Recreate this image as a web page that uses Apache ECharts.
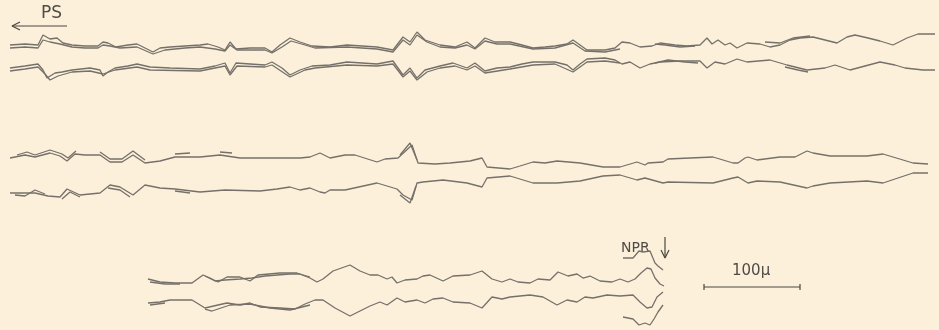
<!DOCTYPE html>
<html><head><meta charset="utf-8">
<script src="https://cdn.jsdelivr.net/npm/echarts@6/dist/echarts.min.js"></script>
<style>html,body{margin:0;padding:0;background:#fcf0da;}#c{width:939px;height:330px;}</style>
</head><body><div id="c"></div>
<script>
// Tracing coordinates (x: horizontal position, y: vertical position, px-scale units)
var row1TopA = [[10,45],[25,44],[38,45],[43,35],[50,39],[57,38],[63,43],[72,45],[85,46],[98,46],[103,42],[108,43],[116,47],[128,45],[137,44],[145,48],[153,52],[160,48],[170,47],[185,46],[200,45],[208,44],[218,47],[225,50],[230,42],[236,49],[250,48],[265,48],[272,52],[280,45],[290,38],[300,42],[312,46],[330,47],[347,45],[362,46],[377,47],[393,50],[403,37],[410,42],[417,32],[425,40],[440,45],[455,47],[467,42],[475,48],[485,38],[495,42],[510,42],[522,45],[533,48],[545,47],[555,46],[567,44],[573,40],[580,45],[587,50],[605,50],[615,48],[622,42],[630,43],[640,47],[652,46],[660,43],[675,45],[687,46],[700,45],[707,38],[712,44],[718,40],[725,45],[730,43],[737,48],[747,43],[760,44],[770,47],[780,45],[790,40],[800,38],[813,37],[825,40],[837,43],[847,37],[855,35],[868,38],[880,41],[893,45],[907,38],[918,34],[935,34]];
var row1TopB = [[10,48],[25,47],[38,48],[43,40],[50,42],[60,44],[72,47],[85,48],[98,48],[103,45],[110,46],[120,48],[137,47],[153,54],[165,50],[185,48],[200,47],[215,49],[225,51],[230,45],[237,50],[265,50],[272,53],[282,47],[291,41],[305,45],[315,48],[347,47],[377,49],[393,52],[403,40],[410,45],[417,35],[427,42],[440,47],[455,48],[467,45],[475,49],[485,41],[497,44],[510,44],[533,49],[555,48],[573,43],[585,51],[605,52],[620,49]];
var row1TopC = [[655,44],[665,45],[680,47],[695,46]];
var row1TopD = [[765,42],[780,43],[793,38],[810,36]];
var row1BotA = [[10,68],[25,66],[38,64],[43,70],[47,78],[55,73],[62,72],[72,70],[90,68],[100,70],[103,76],[108,72],[115,68],[128,66],[137,64],[150,67],[170,68],[200,69],[215,66],[225,63],[230,73],[236,63],[250,64],[265,65],[272,62],[282,68],[290,75],[300,70],[312,66],[330,65],[347,62],[362,63],[377,64],[393,61],[403,75],[410,68],[417,78],[425,70],[440,66],[453,63],[467,68],[475,63],[485,71],[497,68],[510,67],[522,64],[533,62],[555,62],[567,65],[573,70],[580,64],[587,59],[605,58],[615,60],[622,64],[630,62],[640,68],[650,64],[660,62],[680,61],[700,61],[707,68],[715,62],[725,64],[737,59],[747,62],[770,60],[787,65],[807,70],[825,68],[835,65],[850,70],[865,66],[880,62],[895,65],[905,68],[923,70],[935,70]];
var row1BotB = [[10,71],[25,69],[38,67],[45,74],[50,80],[58,76],[72,72],[90,71],[103,74],[115,70],[137,67],[150,70],[200,71],[225,66],[230,75],[237,66],[265,67],[272,65],[290,77],[305,70],[315,68],[347,65],[377,66],[393,64],[403,77],[410,71],[417,80],[427,72],[440,68],[455,66],[467,70],[475,66],[485,73],[510,69],[533,65],[555,64],[573,72],[587,62],[605,61],[620,63]];
var row1BotC = [[655,63],[668,60],[685,62],[698,63]];
var row1BotD = [[785,67],[798,70],[808,72]];

var row2TopA = [[10,158],[25,155],[35,157],[50,153],[60,156],[67,161],[75,154],[85,155],[100,155],[110,162],[122,162],[133,155],[145,163],[160,161],[175,157],[200,157],[220,155],[240,158],[260,158],[280,158],[300,158],[310,157],[320,153],[330,158],[345,155],[355,155],[377,162],[385,159],[398,158],[412,145],[418,163],[435,164],[450,163],[470,161],[482,158],[487,167],[510,169],[520,166],[533,162],[545,163],[557,161],[580,163],[603,167],[620,167],[637,162],[645,165],[648,163],[663,162],[668,159],[690,158],[713,157],[733,163],[738,163],[745,158],[748,157],[757,160],[780,157],[795,157],[807,151],[813,153],[830,156],[867,156],[883,154],[913,163],[928,164]];
var row2TopB1 = [[17,155],[27,152],[35,155],[50,150],[62,154],[68,158],[76,151]];
var row2TopB2 = [[100,152],[110,159],[122,159],[133,151],[145,160]];
var row2TopB3 = [[175,154],[190,153]];
var row2TopB4 = [[220,152],[232,153]];
var row2TopB5 = [[400,155],[410,143],[417,160]];
var row2BotA = [[10,193],[20,193],[35,193],[48,196],[60,197],[67,189],[80,195],[100,193],[110,185],[120,187],[133,195],[145,185],[160,188],[175,189],[200,192],[225,190],[260,191],[277,189],[290,187],[300,190],[310,188],[320,192],[325,193],[330,190],[345,190],[377,183],[397,189],[403,195],[412,200],[417,183],[423,182],[443,180],[467,183],[482,187],[487,178],[510,176],[533,183],[557,183],[580,181],[603,176],[620,175],[637,180],[645,178],[663,183],[668,182],[713,183],[733,178],[738,177],[748,183],[757,181],[780,182],[807,188],[813,186],[830,183],[867,181],[883,183],[913,173],[928,173]];
var row2BotB1 = [[15,195],[25,196],[35,190],[45,194]];
var row2BotB2 = [[62,199],[70,192],[80,197]];
var row2BotB3 = [[108,188],[120,190],[130,197]];
var row2BotB4 = [[175,191],[190,193]];
var row2BotB5 = [[400,195],[410,203],[416,186]];

var row3TopA = [[148,279],[160,282],[175,283],[192,283],[203,275],[210,278],[218,282],[227,277],[240,277],[250,281],[258,275],[280,273],[297,273],[310,278],[317,282],[323,279],[333,271],[350,265],[360,271],[370,275],[378,275],[387,279],[392,277],[397,283],[405,280],[417,279],[423,276],[430,275],[443,281],[453,276],[470,275],[482,271],[492,279],[502,282],[510,279],[518,282],[530,283],[538,279],[550,280],[558,272],[568,276],[577,274],[583,278],[590,276],[600,281],[612,282],[620,279],[628,282],[635,279],[641,273],[647,268],[651,269],[655,278],[660,284],[664,286]];
var row3TopB1 = [[150,282],[165,284],[180,284]];
var row3TopB2 = [[205,276],[215,281],[225,280],[240,279],[252,278],[265,276],[290,274],[300,274],[310,277]];
var row3BotA = [[148,303],[160,302],[170,300],[192,300],[205,308],[218,305],[227,303],[240,305],[250,303],[260,307],[280,308],[295,309],[305,304],[315,300],[323,300],[335,308],[350,316],[360,311],[370,306],[380,302],[387,305],[397,298],[405,302],[417,300],[425,303],[433,299],[443,298],[453,302],[470,303],[482,308],[492,297],[502,299],[510,297],[530,295],[543,297],[557,305],[567,300],[577,302],[585,297],[593,298],[607,295],[620,296],[633,295],[640,302],[647,308],[652,307],[657,297],[663,292]];
var row3BotB1 = [[150,305],[165,303]];
var row3BotB2 = [[205,309],[212,311],[230,305],[250,304],[270,308],[290,310],[310,305]];
var nprUpper = [[623,258],[633,258],[639,251],[643,252],[650,251],[655,263],[658,266],[663,270]];
var nprLower = [[623,317],[633,319],[639,325],[645,323],[650,325],[654,319],[658,312],[663,305]];

// annotations
var psArrowShaft = [[67,26],[12,26]];
var psArrowHead = [[20,22],[12,26],[20,30]];
var nprArrowShaft = [[665,237],[665,258]];
var nprArrowHead = [[661,250],[665,258],[669,250]];
var scaleBar = [[704,287],[800,287]];
var scaleTickL = [[704,284],[704,290]];
var scaleTickR = [[800,284],[800,290]];

var traceColor = '#75706a';
var traces = [row1TopA,row1TopB,row1TopC,row1TopD,row1BotA,row1BotB,row1BotC,row1BotD,
  row2TopA,row2TopB1,row2TopB2,row2TopB3,row2TopB4,row2TopB5,row2BotA,row2BotB1,row2BotB2,row2BotB3,row2BotB4,row2BotB5,
  row3TopA,row3TopB1,row3TopB2,row3BotA,row3BotB1,row3BotB2,nprUpper,nprLower];
var annots = [psArrowShaft,psArrowHead,nprArrowShaft,nprArrowHead,scaleBar,scaleTickL,scaleTickR];

var series = [];
traces.forEach(function(d){
  series.push({type:'line',data:d,showSymbol:false,silent:true,animation:false,
    lineStyle:{color:traceColor,width:1.3}});
});
annots.forEach(function(d){
  series.push({type:'line',data:d,showSymbol:false,silent:true,animation:false,
    lineStyle:{color:'#4a4642',width:1.2}});
});

var chart = echarts.init(document.getElementById('c'));
chart.setOption({
  backgroundColor:'#fcf0da',
  grid:{left:0,right:0,top:0,bottom:0},
  xAxis:{type:'value',min:0,max:939,show:false},
  yAxis:{type:'value',min:0,max:330,inverse:true,show:false},
  series:series,
  graphic:[
    {type:'text',left:41,top:5,style:{text:'PS',font:'17px "DejaVu Sans"',fill:'#4f4b47',letterSpacing:4}},
    {type:'text',left:621,top:241,style:{text:'NPR',font:'14px "DejaVu Sans"',fill:'#4f4b47',letterSpacing:1}},
    {type:'text',left:732,top:264,style:{text:'100\u03bc',font:'15px "DejaVu Sans"',fill:'#4f4b47',letterSpacing:2}}
  ]
});
</script></body></html>
